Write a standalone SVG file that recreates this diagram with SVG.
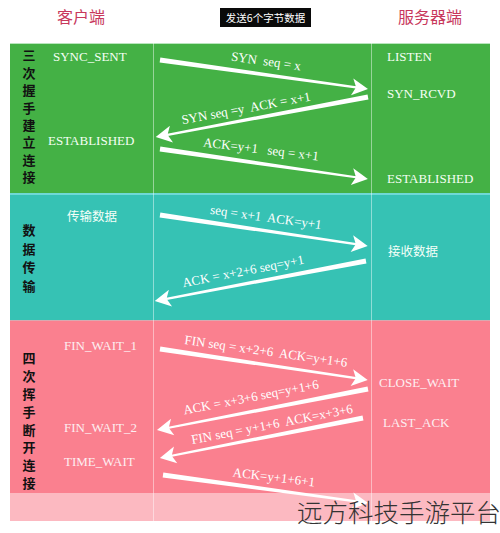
<svg xmlns="http://www.w3.org/2000/svg" width="500" height="533" viewBox="0 0 500 533">
<style>
.hdr{font-family:"Noto Sans CJK SC","Noto Sans",sans-serif;font-size:16px;fill:#c8385c;text-anchor:middle}
.vl{font-family:"Noto Sans CJK SC",sans-serif;font-size:13px;font-weight:bold;fill:#111;writing-mode:vertical-rl}
.st{font-family:"Liberation Serif",serif;font-size:13px;fill:#f4fff4}
.stp{font-family:"Liberation Serif",serif;font-size:13px;fill:#fdeef1}
.cj{font-family:"Noto Sans CJK SC",sans-serif;font-size:12.5px;fill:#f4fff8}
.lb{font-family:"Liberation Serif",serif;font-size:13px;fill:#fff;text-anchor:middle;white-space:pre}
.ar{fill:#fff}
.div{stroke:#ffffff;stroke-opacity:0.45;stroke-width:1}
</style>
<rect width="500" height="533" fill="#fff"/>
<g id="header">
<text class="hdr" x="81" y="23">客户端</text>
<rect x="220" y="8" width="91" height="19" fill="#0a0a0a"/>
<text x="265.5" y="21.5" font-family="Noto Sans CJK SC,sans-serif" font-size="10.5" fill="#fff" text-anchor="middle">发送6个字节数据</text>
<text class="hdr" x="430" y="23">服务器端</text>
</g>
<g id="sections">
<rect x="10" y="43" width="480" height="151" fill="#44b145"/>
<line x1="10" y1="43.5" x2="490" y2="43.5" stroke="#b9e6bd" stroke-width="1"/>
<rect x="10" y="194" width="480" height="126" fill="#36c2b4"/>
<line x1="10" y1="194" x2="490" y2="194" stroke="#6fd8d6" stroke-width="2"/>
<rect x="10" y="320" width="480" height="173" fill="#fa808f"/>
<line x1="10" y1="320.5" x2="490" y2="320.5" stroke="#d9a9b0" stroke-width="1"/>
<rect x="10" y="493" width="480" height="28" fill="#fa808f"/>
<line class="div" x1="153.5" y1="43" x2="153.5" y2="521"/>
<line class="div" x1="371.5" y1="43" x2="371.5" y2="521"/>
</g>
<g id="phase-labels">
<g id="handshake-label"><text class="vl" x="29" y="49" letter-spacing="4.4">三次握手建立连接</text></g>
<g id="transfer-label"><text class="vl" x="29" y="223.5" letter-spacing="5.7">数据传输</text></g>
<g id="close-label"><text class="vl" x="29" y="351.5" letter-spacing="4.9">四次挥手断开连接</text></g>
</g>
<g id="client-states">
<g id="c-sync-sent"><text class="st" x="53" y="61">SYNC_SENT</text></g>
<g id="c-established"><text class="st" x="48" y="145">ESTABLISHED</text></g>
<g id="c-send-data"><text class="cj" x="67" y="220.5">传输数据</text></g>
<g id="c-fin-wait-1"><text class="stp" x="64" y="350">FIN_WAIT_1</text></g>
<g id="c-fin-wait-2"><text class="stp" x="64" y="432">FIN_WAIT_2</text></g>
<g id="c-time-wait"><text class="stp" x="64" y="466">TIME_WAIT</text></g>
</g>
<g id="server-states">
<g id="s-listen"><text class="st" x="387" y="61">LISTEN</text></g>
<g id="s-syn-rcvd"><text class="st" x="387" y="98">SYN_RCVD</text></g>
<g id="s-established"><text class="st" x="387" y="183">ESTABLISHED</text></g>
<g id="s-recv-data"><text class="cj" x="388" y="255.5">接收数据</text></g>
<g id="s-close-wait"><text class="stp" x="379" y="387">CLOSE_WAIT</text></g>
<g id="s-last-ack"><text class="stp" x="383" y="427">LAST_ACK</text></g>
</g>
<g id="connectors">
<path class="ar" transform="translate(160,60) rotate(7.94)" d="M0,-2.5 L198,-1.1 L198,1.1 L0,2.5 Z M194,-8.5 L210,0 L194,8.5 L198,0 Z"/>
<text class="lb" transform="translate(266,61) rotate(8)" y="4.5">SYN  seq = x</text>
<path class="ar" transform="translate(368,97) rotate(169.32)" d="M0,-2.5 L204,-1.1 L204,1.1 L0,2.5 Z M200,-8.5 L216,0 L200,8.5 L204,0 Z"/>
<text class="lb" transform="translate(246,108) rotate(-10.5)" y="4.5">SYN seq =y  ACK = x+1</text>
<path class="ar" transform="translate(160,149) rotate(8.2)" d="M0,-2.5 L198,-1.1 L198,1.1 L0,2.5 Z M194,-8.5 L210,0 L194,8.5 L198,0 Z"/>
<text class="lb" transform="translate(261,149) rotate(7)" y="4.5">ACK=y+1   seq = x+1</text>
<path class="ar" transform="translate(160,215) rotate(8.48)" d="M0,-2.5 L198,-1.1 L198,1.1 L0,2.5 Z M194,-8.5 L210,0 L194,8.5 L198,0 Z"/>
<text class="lb" transform="translate(266,217) rotate(8)" y="4.5">seq = x+1  ACK=y+1</text>
<path class="ar" transform="translate(366,261) rotate(169.27)" d="M0,-2.5 L203,-1.1 L203,1.1 L0,2.5 Z M199,-8.5 L215,0 L199,8.5 L203,0 Z"/>
<text class="lb" transform="translate(243,271) rotate(-11)" y="4.5">ACK = x+2+6 seq=y+1</text>
<path class="ar" transform="translate(160,349) rotate(8.48)" d="M0,-2.5 L198,-1.1 L198,1.1 L0,2.5 Z M194,-8.5 L210,0 L194,8.5 L198,0 Z"/>
<text class="lb" transform="translate(266,351) rotate(8)" y="4.5">FIN seq = x+2+6  ACK=y+1+6</text>
<path class="ar" transform="translate(368,389) rotate(169)" d="M0,-2.5 L203,-1.1 L203,1.1 L0,2.5 Z M199,-8.5 L215,0 L199,8.5 L203,0 Z"/>
<text class="lb" transform="translate(251,397) rotate(-11)" y="4.5">ACK = x+3+6 seq=y+1+6</text>
<path class="ar" transform="translate(363,418) rotate(168.85)" d="M0,-2.5 L195,-1.1 L195,1.1 L0,2.5 Z M191,-8.5 L207,0 L191,8.5 L195,0 Z"/>
<text class="lb" transform="translate(272,424) rotate(-11)" y="4.5">FIN seq = y+1+6  ACK=x+3+6</text>
<path class="ar" transform="translate(163,475) rotate(7.78)" d="M0,-2.5 L195,-1.1 L195,1.1 L0,2.5 Z M191,-8.5 L207,0 L191,8.5 L195,0 Z"/>
<text class="lb" transform="translate(274,477) rotate(7)" y="4.5">ACK=y+1+6+1</text>
</g>
<g id="watermark">
<rect x="10" y="493" width="480" height="28" fill="#fff" fill-opacity="0.45"/>
<text x="297" y="522" font-family="Noto Sans CJK SC,sans-serif" font-size="25.5" font-weight="300" fill="#333">远方科技手游平台</text>
</g>
</svg>
